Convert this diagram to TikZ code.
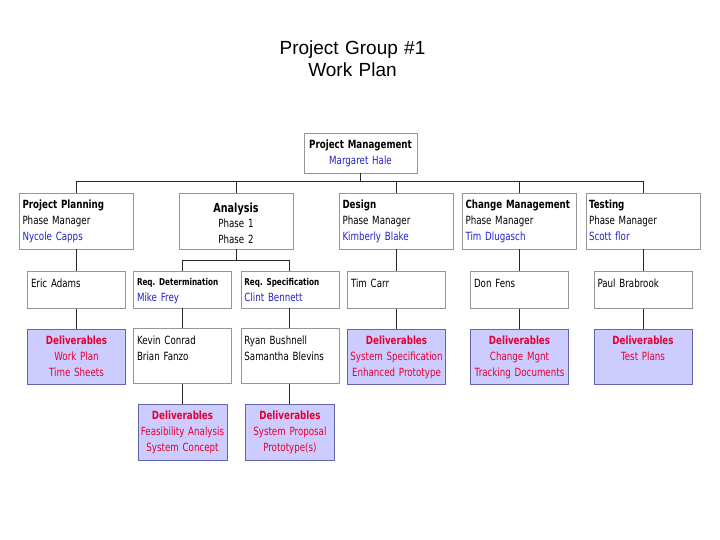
\documentclass[tikz,border=0pt]{standalone}
\usepackage{fontspec}
\setmainfont{DejaVu Sans}[FakeStretch=0.77, WordSpace=0.8]
\newfontfamily\titlefont{Liberation Sans}
\usetikzlibrary{positioning}
\definecolor{boxgray}{RGB}{150,150,150}
\definecolor{delivline}{RGB}{100,100,170}
\definecolor{delivfill}{RGB}{204,204,255}
\definecolor{nameblue}{RGB}{34,34,204}
\definecolor{delivred}{RGB}{228,0,50}
\definecolor{wirecol}{RGB}{40,40,40}
\frenchspacing

\begin{document}
\begin{tikzpicture}[x=1pt, y=-1pt, every node/.style={font=\fontsize{11.3}{15.7}\selectfont},
  wire/.style={draw=wirecol, line width=1pt},
  leadbox/.style={draw=boxgray, fill=white, inner xsep=2pt, inner ysep=0pt, text width=109pt, text height=16pt, text depth=24pt, align=center},
  phasebox/.style={draw=boxgray, fill=white, inner xsep=3pt, inner ysep=0pt, text width=108pt, text height=16pt, text depth=40pt, align=left},
  member/.style={draw=boxgray, fill=white, inner xsep=3.5pt, inner ysep=0pt, text width=91pt, text height=16pt, text depth=21pt, align=left},
  crew/.style={draw=boxgray, fill=white, inner xsep=3.5pt, inner ysep=0pt, text width=91pt, text height=16pt, text depth=39pt, align=left},
  deliv/.style={draw=delivline, fill=delivfill, text=delivred, inner xsep=1pt, inner ysep=0pt, text width=96pt, text height=16pt, text depth=39pt, align=center},
  delivsmall/.style={deliv, text width=87pt, text depth=40pt}]
\useasboundingbox (0,0) rectangle (720,540);
\node[font=\titlefont\fontsize{19}{22}\selectfont, text width=220pt, align=center, inner sep=0pt, text height=14pt, anchor=north] (title) at (352.5,40) {Project Group \#1\\Work Plan};
\node[leadbox] (pm) at (360.5,153) {\textbf{Project Management}\\\textcolor{nameblue}{Margaret Hale}};
% phase managers
\node[phasebox] (plan) at (76.5,221) {\textbf{Project Planning}\\Phase Manager\\\textcolor{nameblue}{Nycole Capps}};
\node[phasebox, align=center, text height=19pt, text depth=37pt] (analysis) at (236,221) {{\fontsize{12.5}{15.7}\selectfont\bfseries Analysis}\\Phase 1\\Phase 2};
\node[phasebox] (design) at (396.5,221) {\textbf{Design}\\Phase Manager\\\textcolor{nameblue}{Kimberly Blake}};
\node[phasebox] (change) at (519.5,221) {\textbf{Change Management}\\Phase Manager\\\textcolor{nameblue}{Tim Dlugasch}};
\node[phasebox] (testing) at (643,221) {\textbf{Testing}\\Phase Manager\\\textcolor{nameblue}{Scott flor}};
% team members
\node[member, below=22pt of plan] (eric) {Eric Adams};
\node[member, text height=14.5pt, text depth=22.5pt] (reqdet) at (182.5,289.5) {{\fontsize{9.4}{15}\selectfont\bfseries Req. Determination}\\\textcolor{nameblue}{Mike Frey}};
\node[member, text height=14.5pt, text depth=22.5pt, right=9pt of reqdet] (reqspec) {{\fontsize{9.4}{15}\selectfont\bfseries Req. Specification}\\\textcolor{nameblue}{Clint Bennett}};
\node[member, below=22pt of design] (tim) {Tim Carr};
\node[member, below=22pt of change] (don) {Don Fens};
\node[member, below=22pt of testing] (paul) {Paul Brabrook};
% deliverables
\node[deliv, below=20pt of eric] (delplan) {\textbf{Deliverables}\\Work Plan\\Time Sheets};
\node[crew, below=20pt of reqdet] (kevin) {Kevin Conrad\\Brian Fanzo};
\node[crew, below=20pt of reqspec] (ryan) {Ryan Bushnell\\Samantha Blevins};
\node[deliv, below=20pt of tim] (deldesign) {\textbf{Deliverables}\\System Specification\\Enhanced Prototype};
\node[deliv, below=20pt of don] (delchange) {\textbf{Deliverables}\\Change Mgnt\\Tracking Documents};
\node[deliv, below=20pt of paul] (deltest) {\textbf{Deliverables}\\Test Plans};
\node[delivsmall, below=20pt of kevin] (delfeas) {\textbf{Deliverables}\\Feasibility Analysis\\System Concept};
\node[delivsmall, below=20pt of ryan] (delprop) {\textbf{Deliverables}\\System Proposal\\Prototype(s)};
% connectors
\foreach \n in {plan,analysis,design,change,testing}{\draw[wire] (pm.south) |- ([yshift=11pt]\n.north) -- (\n.north);}
\foreach \n in {reqdet,reqspec}{\draw[wire] (analysis.south) |- ([yshift=10pt]\n.north) -- (\n.north);}
\foreach \a/\b in {plan/eric,design/tim,change/don,testing/paul,eric/delplan,reqdet/kevin,reqspec/ryan,tim/deldesign,don/delchange,paul/deltest,kevin/delfeas,ryan/delprop}{\draw[wire] (\a) -- (\b);}
\end{tikzpicture}
\end{document}
